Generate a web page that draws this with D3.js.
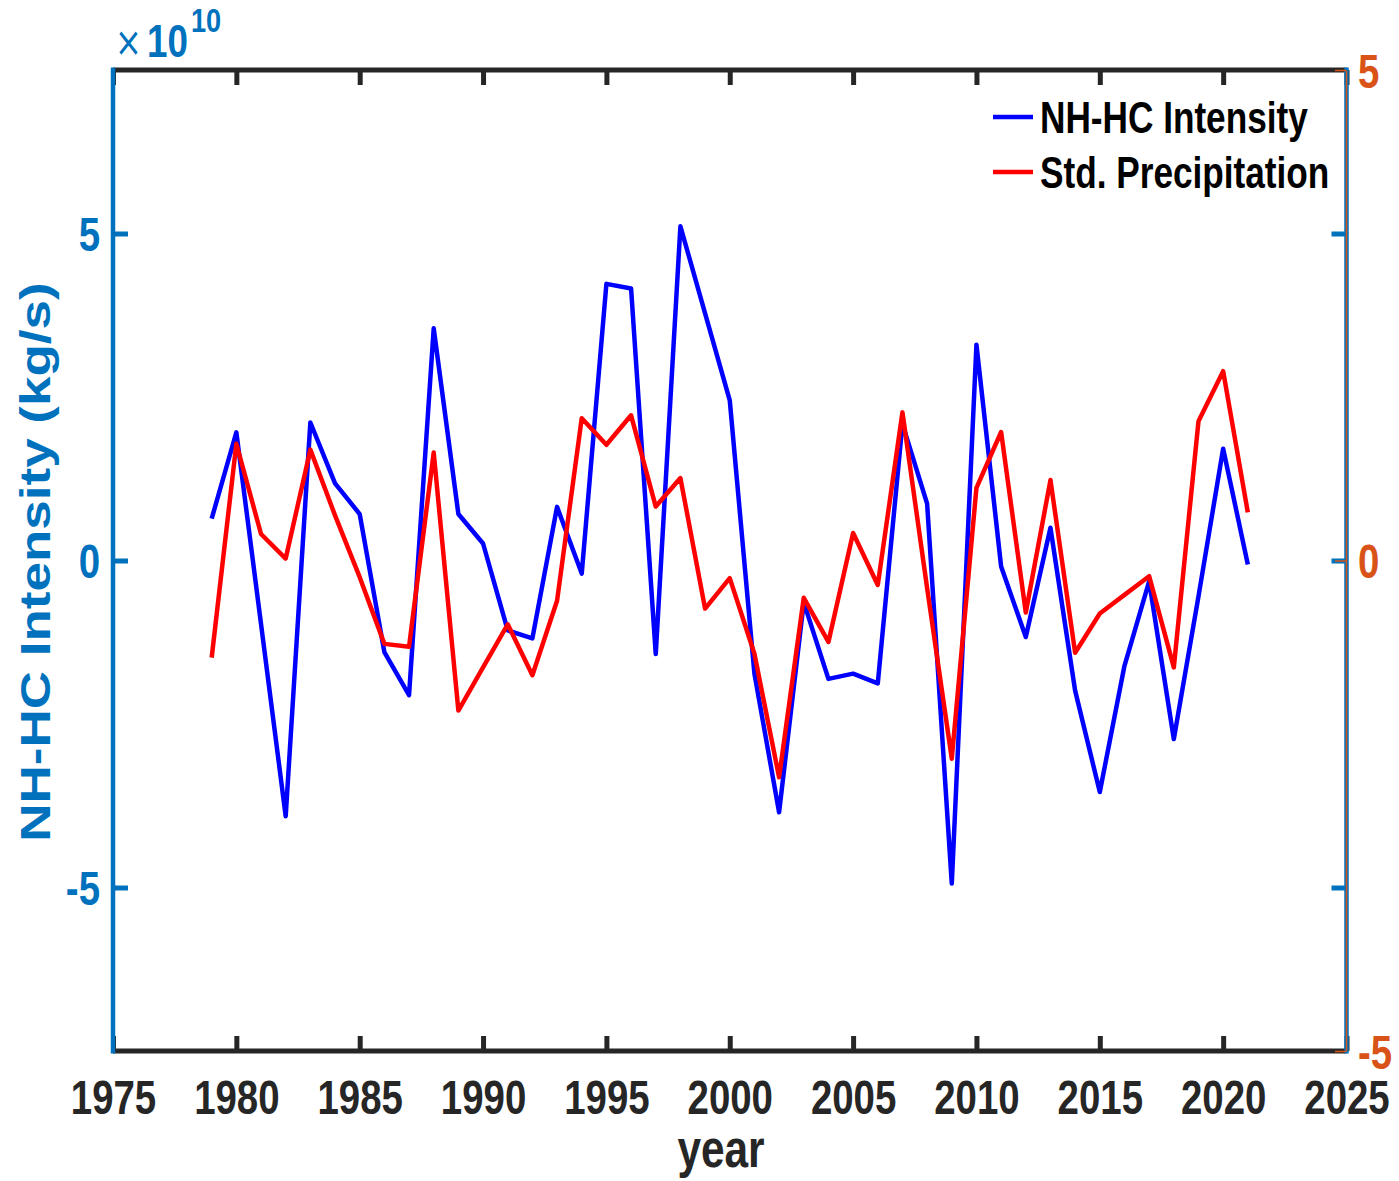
<!DOCTYPE html>
<html><head><meta charset="utf-8">
<script src="https://cdn.jsdelivr.net/npm/d3@7"></script>
<style>
body{margin:0;background:#fff}
svg{display:block}
text{font-family:"Liberation Sans",Arial,Helvetica,sans-serif;font-weight:bold}
</style></head><body>
<svg id="c" width="1399" height="1181"></svg>
<script>
// ---- data ----
const years = [1979,1980,1981,1982,1983,1984,1985,1986,1987,1988,1989,1990,1991,1992,1993,1994,1995,1996,1997,1998,1999,2000,2001,2002,2003,2004,2005,2006,2007,2008,2009,2010,2011,2012,2013,2014,2015,2016,2017,2018,2019,2020,2021];
// NH-HC intensity in kg/s
const nhhcIntensity = [0.64e10,1.96e10,-0.97e10,-3.91e10,2.11e10,1.18e10,0.71e10,-1.40e10,-2.06e10,3.55e10,0.71e10,0.26e10,-1.07e10,-1.19e10,0.82e10,-0.20e10,4.23e10,4.16e10,-1.43e10,5.11e10,3.78e10,2.45e10,-1.73e10,-3.85e10,-0.64e10,-1.81e10,-1.73e10,-1.88e10,2.09e10,0.87e10,-4.94e10,3.30e10,-0.09e10,-1.17e10,0.50e10,-1.99e10,-3.54e10,-1.61e10,-0.32e10,-2.73e10,-0.55e10,1.71e10,-0.06e10];
// standardized precipitation
const stdPrecip = [-0.99,1.19,0.27,0.02,1.13,0.46,-0.17,-0.85,-0.88,1.10,-1.53,-1.09,-0.65,-1.17,-0.41,1.45,1.18,1.48,0.55,0.84,-0.49,-0.18,-0.95,-2.21,-0.38,-0.83,0.28,-0.25,1.51,-0.28,-2.02,0.74,1.31,-0.53,0.82,-0.94,-0.54,-0.35,-0.16,-1.09,1.42,1.93,0.49];
const xTicks = [1975,1980,1985,1990,1995,2000,2005,2010,2015,2020,2025];
const yLeftTicks = [-5e10,0,5e10];
const yRightTicks = [-5,0,5];
const seriesNames = ["NH-HC Intensity","Std. Precipitation"];
const labels = {x:"year", yLeft:"NH-HC Intensity (kg/s)", exponent:"10"};

// ---- layout ----
const L=113, R=1346.5, T=70, B=1051;
const BLUEAX="#0072BD", ORANGE="#D95319", DARK="#262626";
const SQ=0.8;

const svg=d3.select("#c");
const x=d3.scaleLinear().domain([1975,2025]).range([L,R]);
const yL=d3.scaleLinear().domain([-7.5e10,7.5e10]).range([B,T]);
const yR=d3.scaleLinear().domain([-5,5]).range([B,T]);

// lines
const lineL=d3.line().x((d,i)=>x(years[i])).y(d=>yL(d));
const lineR=d3.line().x((d,i)=>x(years[i])).y(d=>yR(d));
svg.append("path").attr("d",lineL(nhhcIntensity)).attr("fill","none").attr("stroke","#0000FF").attr("stroke-width",4.5).attr("stroke-linejoin","round");
svg.append("path").attr("d",lineR(stdPrecip)).attr("fill","none").attr("stroke","#FF0000").attr("stroke-width",4.5).attr("stroke-linejoin","round");

// bottom axis
const gb=svg.append("g").attr("transform",`translate(0,${B})`)
  .call(d3.axisBottom(x).tickValues(xTicks).tickSizeInner(-15).tickSizeOuter(0).tickFormat(d3.format("d")));
gb.select(".domain").remove();
gb.selectAll(".tick line").attr("stroke",DARK).attr("stroke-width",5);
gb.selectAll(".tick text").attr("y",63.5).attr("dy",0).attr("font-size",48).attr("fill",DARK)
  .attr("font-family",null).attr("transform",`scale(${SQ},1)`);

// top axis
const gt=svg.append("g").attr("transform",`translate(0,${T})`)
  .call(d3.axisTop(x).tickValues(xTicks).tickSizeInner(-15).tickSizeOuter(0).tickFormat(""));
gt.select(".domain").remove();
gt.selectAll(".tick line").attr("stroke",DARK).attr("stroke-width",5);

// left axis
const gl=svg.append("g").attr("transform",`translate(${L},0)`)
  .call(d3.axisLeft(yL).tickValues(yLeftTicks).tickSizeInner(-15).tickSizeOuter(0).tickFormat(d=>String(d/1e10)));
gl.select(".domain").remove();
gl.selectAll(".tick line").attr("stroke",BLUEAX).attr("stroke-width",5);
gl.selectAll(".tick text").attr("x",-13/SQ).attr("dy","0.36em").attr("font-size",48).attr("fill",BLUEAX)
  .attr("font-family",null).attr("text-anchor","end").attr("transform",`scale(${SQ},1)`);

// left axis ticks mirrored on right
const glr=svg.append("g").attr("transform",`translate(${R},0)`)
  .call(d3.axisRight(yL).tickValues(yLeftTicks).tickSizeInner(-15).tickSizeOuter(0).tickFormat(""));
glr.select(".domain").remove();
glr.selectAll(".tick line").attr("stroke",BLUEAX).attr("stroke-width",5);

// spines
svg.append("line").attr("x1",L).attr("x2",R).attr("y1",T).attr("y2",T).attr("stroke",DARK).attr("stroke-width",5);
svg.append("line").attr("x1",L).attr("x2",R).attr("y1",B).attr("y2",B).attr("stroke",DARK).attr("stroke-width",5);
svg.append("line").attr("x1",L).attr("x2",L).attr("y1",T-2.5).attr("y2",B+2.5).attr("stroke",BLUEAX).attr("stroke-width",4.5);
svg.append("line").attr("x1",R).attr("x2",R).attr("y1",T-2.5).attr("y2",B+2.5).attr("stroke",BLUEAX).attr("stroke-width",4.5);

// right axis (orange)
const gr=svg.append("g").attr("transform",`translate(${R-0.5},0)`)
  .call(d3.axisRight(yR).tickValues(yRightTicks).tickSizeInner(-11).tickSizeOuter(0).tickFormat(d=>String(d)));
gr.select(".domain").attr("stroke",ORANGE).attr("stroke-width",1.5);
gr.selectAll(".tick line").attr("stroke",ORANGE).attr("stroke-width",1.5);
gr.selectAll(".tick text").attr("x",12/SQ).attr("dy","0.36em").attr("font-size",48).attr("fill",ORANGE)
  .attr("font-family",null).attr("text-anchor","start").attr("transform",`scale(${SQ},1)`);

// axis labels
svg.append("text").attr("transform",`translate(721,1167) scale(${SQ},1)`).attr("text-anchor","middle")
  .attr("font-size",53).attr("fill",DARK).text(labels.x);
svg.append("text").attr("transform",`translate(50,562) scale(${SQ},1) rotate(-90)`).attr("text-anchor","middle")
  .attr("font-size",53).attr("fill",BLUEAX).text(labels.yLeft);

// exponent label
svg.append("text").attr("transform",`translate(115,56) scale(${SQ},1)`).attr("font-size",40).attr("fill",BLUEAX)
  .style("font-weight","normal").style("font-family","'DejaVu Sans',sans-serif").text("\u00D7");
svg.append("text").attr("transform",`translate(147,57) scale(${SQ},1)`).attr("font-size",46).attr("fill",BLUEAX).text("10");
svg.append("text").attr("transform",`translate(191,32) scale(${SQ},1)`).attr("font-size",34).attr("fill",BLUEAX).text(labels.exponent);

// legend
const legColors=["#0000FF","#FF0000"];
const legY=[117,172];
seriesNames.forEach((n,i)=>{
  svg.append("line").attr("x1",993).attr("x2",1033).attr("y1",legY[i]).attr("y2",legY[i]).attr("stroke",legColors[i]).attr("stroke-width",4.5);
  svg.append("text").attr("transform",`translate(1040,${legY[i]+0.358*44}) scale(${SQ},1)`).attr("font-size",44).attr("fill","#000").text(n);
});
</script>
</body></html>
